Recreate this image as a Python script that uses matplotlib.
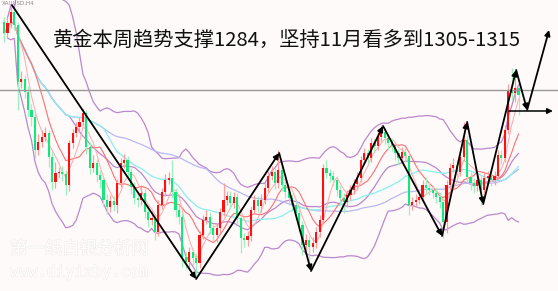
import numpy as np
import pandas as pd
import matplotlib
matplotlib.use("Agg")
import matplotlib.pyplot as plt
import matplotlib.patheffects as pe

# --- candle data (gold) ---
first_open = 1317.8
closes = [
    1316.7, 1317.7, 1318.8, 1317.5, 1311.8, 1312.1, 1310.8, 1309.0, 1308.3, 1305.0,
    1305.8, 1306.3, 1306.7, 1304.3, 1301.8, 1302.7, 1302.8, 1302.6, 1301.5, 1305.7,
    1306.7, 1307.3, 1307.8, 1308.7, 1305.3, 1303.2, 1303.7, 1302.5, 1302.0, 1300.0,
    1299.3, 1299.9, 1299.5, 1301.7, 1303.7, 1304.0, 1302.8, 1301.3, 1300.2, 1300.0,
    1300.7, 1298.8, 1298.0, 1298.2, 1296.8, 1299.5, 1300.8, 1302.0, 1302.2, 1300.8,
    1299.0, 1298.3, 1294.3, 1293.8, 1294.8, 1294.2, 1293.7, 1296.5, 1298.0, 1298.3,
    1297.2, 1296.5, 1297.2, 1298.8, 1300.0, 1300.4, 1299.7, 1300.3, 1298.2, 1296.2,
    1296.0, 1296.4, 1299.0, 1300.0, 1299.4, 1300.0, 1301.2, 1302.4, 1302.8, 1301.7,
    1303.0, 1301.5, 1300.8, 1300.2, 1299.5, 1298.7, 1297.5, 1295.5, 1296.0, 1295.3,
    1295.7, 1296.8, 1298.0, 1303.2, 1302.7, 1302.4, 1302.0, 1301.0, 1300.2, 1299.8,
    1300.5, 1301.0, 1301.6, 1302.2, 1304.0, 1304.7, 1304.2, 1305.7, 1305.4, 1306.3,
    1306.8, 1306.2, 1305.7, 1305.5, 1304.7, 1304.2, 1304.8, 1304.4, 1299.5, 1299.8,
    1300.0, 1300.3, 1301.5, 1301.2, 1301.0, 1300.7, 1300.3, 1299.8, 1297.8, 1301.5,
    1303.2, 1303.5, 1302.8, 1304.3, 1306.0, 1302.3, 1301.7, 1301.4, 1302.0, 1301.0,
    1302.2, 1302.4, 1302.0, 1302.4, 1304.5, 1304.2, 1307.0, 1311.0, 1310.7, 1311.2,
    1310.5,
]
highs = [
    1318.3, 1318.2, 1319.3, 1319.1, 1317.8, 1312.9, 1312.5, 1311.4, 1309.6, 1308.7,
    1306.6, 1307.0, 1307.3, 1307.0, 1304.8, 1303.8, 1303.3, 1303.4, 1303.0, 1306.0,
    1307.1, 1307.8, 1308.3, 1309.2, 1309.0, 1305.8, 1304.5, 1304.1, 1303.0, 1302.4,
    1300.6, 1300.5, 1300.4, 1302.1, 1304.2, 1304.6, 1304.4, 1303.2, 1301.8, 1300.8,
    1301.4, 1301.1, 1299.3, 1298.9, 1298.6, 1300.0, 1301.2, 1302.6, 1302.8, 1304.0,
    1301.2, 1299.5, 1298.7, 1294.8, 1295.3, 1295.2, 1294.7, 1296.9, 1298.5, 1299.0,
    1298.8, 1297.6, 1297.7, 1299.2, 1301.7, 1300.9, 1300.9, 1300.8, 1300.7, 1298.6,
    1296.7, 1296.9, 1299.4, 1300.5, 1300.4, 1300.6, 1301.7, 1302.9, 1303.4, 1303.2,
    1305.0, 1303.4, 1302.0, 1301.2, 1300.6, 1299.9, 1299.1, 1297.9, 1296.6, 1296.4,
    1296.3, 1297.3, 1298.5, 1303.6, 1304.0, 1303.1, 1302.9, 1302.4, 1301.5, 1300.7,
    1301.0, 1301.5, 1302.1, 1302.8, 1304.4, 1305.2, 1305.1, 1306.2, 1306.1, 1306.8,
    1307.5, 1307.2, 1306.7, 1306.1, 1305.9, 1305.1, 1305.3, 1305.2, 1304.8, 1300.3,
    1300.6, 1300.9, 1302.0, 1302.3, 1301.8, 1301.5, 1301.2, 1300.8, 1300.2, 1302.0,
    1303.7, 1304.2, 1304.0, 1304.8, 1307.8, 1306.5, 1302.8, 1302.2, 1302.6, 1302.4,
    1302.7, 1302.9, 1302.9, 1302.9, 1305.0, 1305.0, 1307.5, 1311.6, 1313.2, 1313.0,
    1311.8,
]
lows = [
    1315.8, 1316.3, 1317.2, 1317.0, 1309.0, 1311.2, 1310.2, 1308.4, 1307.4, 1304.2,
    1304.5, 1305.3, 1305.9, 1303.3, 1301.0, 1301.2, 1302.2, 1301.9, 1300.5, 1300.9,
    1305.2, 1306.3, 1306.9, 1307.4, 1304.6, 1302.6, 1302.8, 1301.8, 1301.2, 1299.4,
    1298.6, 1298.8, 1298.9, 1298.7, 1301.3, 1303.2, 1302.2, 1300.6, 1299.6, 1299.3,
    1299.5, 1298.2, 1297.3, 1297.5, 1296.0, 1296.4, 1299.1, 1300.4, 1301.6, 1300.2,
    1298.3, 1297.6, 1293.3, 1293.1, 1293.3, 1293.5, 1292.2, 1293.2, 1296.1, 1297.6,
    1296.6, 1295.9, 1295.8, 1296.7, 1298.4, 1299.5, 1299.1, 1299.2, 1297.6, 1294.7,
    1295.3, 1295.4, 1295.9, 1298.6, 1298.8, 1298.8, 1299.6, 1300.8, 1302.0, 1301.1,
    1301.2, 1300.9, 1300.2, 1299.5, 1298.9, 1298.0, 1296.8, 1294.5, 1294.8, 1293.2,
    1294.8, 1295.2, 1296.3, 1297.6, 1302.2, 1301.8, 1301.4, 1300.4, 1299.5, 1298.7,
    1299.3, 1300.0, 1300.6, 1301.1, 1301.8, 1303.6, 1303.7, 1303.8, 1304.9, 1305.0,
    1305.9, 1305.6, 1305.0, 1304.9, 1304.0, 1303.5, 1303.8, 1303.8, 1298.5, 1299.0,
    1299.4, 1299.6, 1299.9, 1300.7, 1300.5, 1300.2, 1299.7, 1299.2, 1296.2, 1296.7,
    1301.0, 1302.8, 1302.3, 1302.4, 1303.9, 1301.8, 1301.0, 1300.7, 1300.9, 1299.5,
    1300.5, 1301.8, 1301.4, 1301.5, 1302.0, 1303.6, 1303.8, 1306.6, 1310.0, 1309.8,
    1308.5,
]

# hand-drawn trend arrows: (candle index, price) nodes
path_x = [2.3, 56.0, 80.2, 89.5, 110.5, 127.7, 135.0, 139.7, 149.3, 152.5, 158.9]
path_p = [1319.5, 1292.1, 1304.7, 1292.9, 1307.4, 1296.4, 1307.8, 1299.6, 1313.0, 1309.0, 1317.0]
flat_x = [147.2, 160.0]
flat_p = 1308.9
level_line = 1311.0

title = "黄金本周趋势支撑1284，坚持11月看多到1305-1315"
wm_cn = "第一纸白银分析网"
wm_url = "www.diyizby.com"

# --- derived series ---
opens = [first_open] + closes[:-1]
s = pd.Series(closes)
ma5 = s.rolling(5, min_periods=1).mean()
ma10 = s.rolling(10, min_periods=1).mean()
mid = s.rolling(20, min_periods=1).mean()
sd = s.rolling(20, min_periods=2).std(ddof=0)
ma30 = s.rolling(30, min_periods=1).mean()
ma60 = s.rolling(60, min_periods=1).mean()

bg = "#fefaf9"
fig = plt.figure(figsize=(5.58, 2.91), dpi=100, facecolor=bg)
ax = fig.add_axes([0, 0, 1, 1], facecolor=bg)
x = np.arange(len(closes))

ax.plot(x, mid + 2 * sd, color="#bb88cc", lw=0.9, zorder=1)
ax.plot(x, mid - 2 * sd, color="#bb88cc", lw=0.9, zorder=1)
ax.plot(x, mid, color="#bb88cc", lw=0.9, zorder=1)
ax.plot(x, ma60, color="#b8b8f2", lw=0.9, zorder=1)
ax.plot(x, ma30, color="#88eeee", lw=0.9, zorder=1)
ax.plot(x, ma10, color="#ff7070", lw=0.8, zorder=1)
ax.plot(x, ma5, color="#ffaaaa", lw=0.7, zorder=1)

# candles
o = np.array(opens)
c = np.array(closes)
up = c >= o
wick_col = np.where(up, "#ff9c9c", "#9cf2bf")
body_col = np.where(up, "#ff1010", "#14e87c")
ax.vlines(x, lows, highs, colors=wick_col, lw=0.9, zorder=2)
bottom = np.minimum(o, c)
height = np.maximum(np.abs(c - o), 0.12)
ax.bar(x, height, bottom=bottom, width=0.62, color=body_col, linewidth=0, zorder=3)

ax.axhline(level_line, color="#999999", lw=1.0, zorder=4)

# arrows
for k in range(len(path_x) - 1):
    ax.annotate("", xy=(path_x[k + 1], path_p[k + 1]), xytext=(path_x[k], path_p[k]),
                arrowprops=dict(arrowstyle="-|>", color="black", lw=1.3,
                                mutation_scale=8, shrinkA=0, shrinkB=0),
                zorder=5)
ax.annotate("", xy=(flat_x[1], flat_p), xytext=(flat_x[0], flat_p),
            arrowprops=dict(arrowstyle="-|>", color="black", lw=1.1,
                            mutation_scale=8, shrinkA=0, shrinkB=0),
            zorder=5)

ax.set_xlim(-1.17, 161.5)
ax.set_ylim(1290.9, 1320)
ax.axis("off")

cjk = ["Noto Sans CJK SC", "DejaVu Sans"]
ax.text(0.515, 0.862, title, transform=ax.transAxes, ha="center", va="center",
        fontsize=14.6, family=cjk, color="#111111", zorder=6)
ax.text(0.003, 0.998, "XAUUSD,H4", transform=ax.transAxes, ha="left", va="top",
        fontsize=4, color="#888888", zorder=6)

halo = [pe.withStroke(linewidth=0.8, foreground="#f1eaea")]
ax.text(0.018, 0.145, wm_cn, transform=ax.transAxes, ha="left", va="center",
        fontsize=12.5, family=cjk, color="white", path_effects=halo, zorder=6)
ax.text(0.018, 0.065, wm_url, transform=ax.transAxes, ha="left", va="center",
        fontsize=11, family="DejaVu Sans Mono", color="white", path_effects=halo, zorder=6)

fig.savefig("out.png", dpi=100, facecolor=bg)
